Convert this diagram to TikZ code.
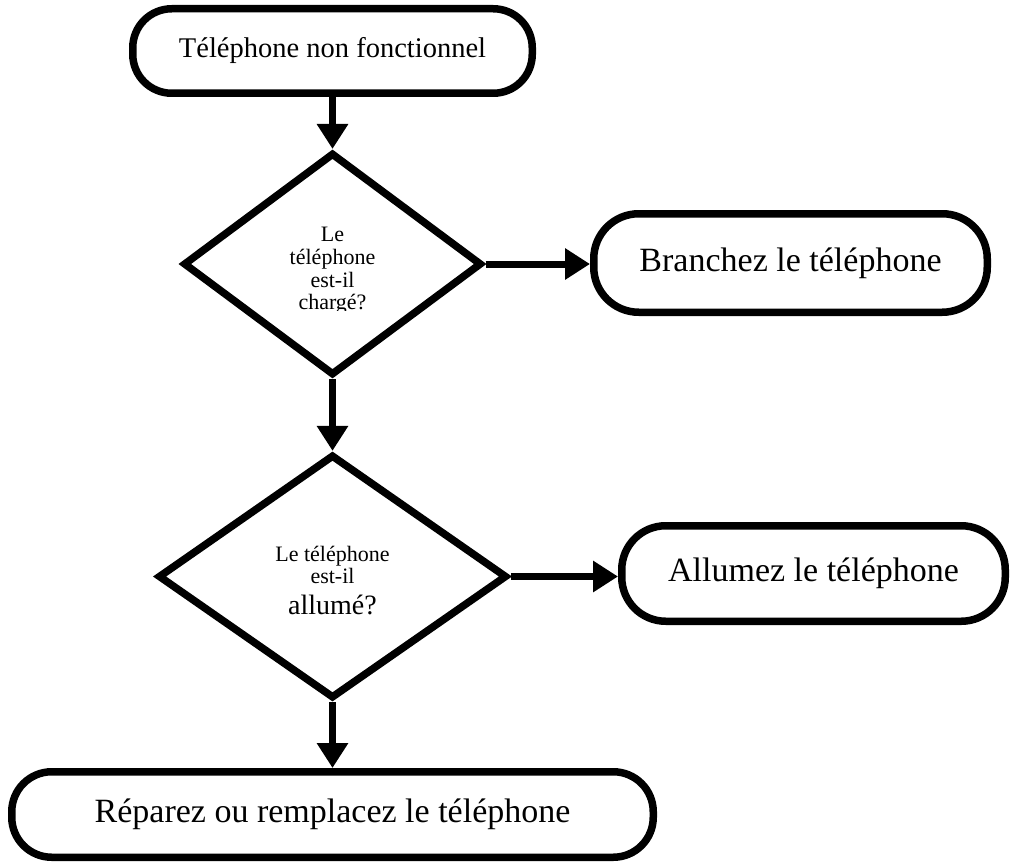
\documentclass[tikz,border=0pt]{standalone}
\usepackage{fontspec}
\setmainfont{Liberation Serif}
\usetikzlibrary{shapes.geometric,arrows.meta}
\begin{document}
\begin{tikzpicture}[x=1pt,y=-1pt,
  term/.style={draw, line width=7.5pt, inner sep=0pt},
  decision/.style={draw, diamond, line width=7.5pt, inner sep=0pt, line join=miter},
  flow/.style={line width=7pt, -{Triangle[length=25pt,width=30pt]}},
  bigtxt/.style={font=\fontsize{34}{40}\selectfont},
  smalltxt/.style={font=\fontsize{22}{22.7}\selectfont, align=center, inner sep=0pt}
]
\useasboundingbox (0,0) rectangle (1011,864);
\node[term, rounded corners=39pt, minimum width=399.5pt, minimum height=84.5pt, font=\fontsize{28.5}{34}\selectfont] (start) at (332.5,51) {Téléphone non fonctionnel};
\node[decision, minimum width=298.5pt, minimum height=222.6pt] (d1) at (332.5,264) {};
\begin{scope}
\clip (150,150) rectangle (510,310);
\node[smalltxt] (d1t) at (332.5,271) {Le\\téléphone\\est-il\\chargé?};
\end{scope}
\node[term, rounded corners=45pt, minimum width=393.5pt, minimum height=98.5pt, bigtxt] (b) at (790.5,263) {Branchez le téléphone};
\node[decision, minimum width=349pt, minimum height=243.8pt] (d2) at (332.5,576.5) {};
\node[smalltxt] (d2t) at (332.5,565) {Le téléphone\\est-il};
\node[font=\fontsize{28}{32}\selectfont, inner sep=0pt] (d2u) at (332.5,605) {allumé?};
\node[term, rounded corners=44pt, minimum width=383.5pt, minimum height=95.5pt, bigtxt] (a) at (813.5,573.5) {Allumez le téléphone};
\node[term, rounded corners=40pt, minimum width=641.5pt, minimum height=85.5pt, bigtxt] (r) at (332.5,814.5) {Réparez ou remplacez le téléphone};
\draw[flow] (start.south) -- (d1.north);
\draw[flow] (d1.east) -- (d1.east -| b.west);
\draw[flow] (d1.south) -- (d2.north);
\draw[flow] (d2.east) -- (d2.east -| a.west);
\draw[flow] (d2.south) -- (r.north);
\end{tikzpicture}
\end{document}
